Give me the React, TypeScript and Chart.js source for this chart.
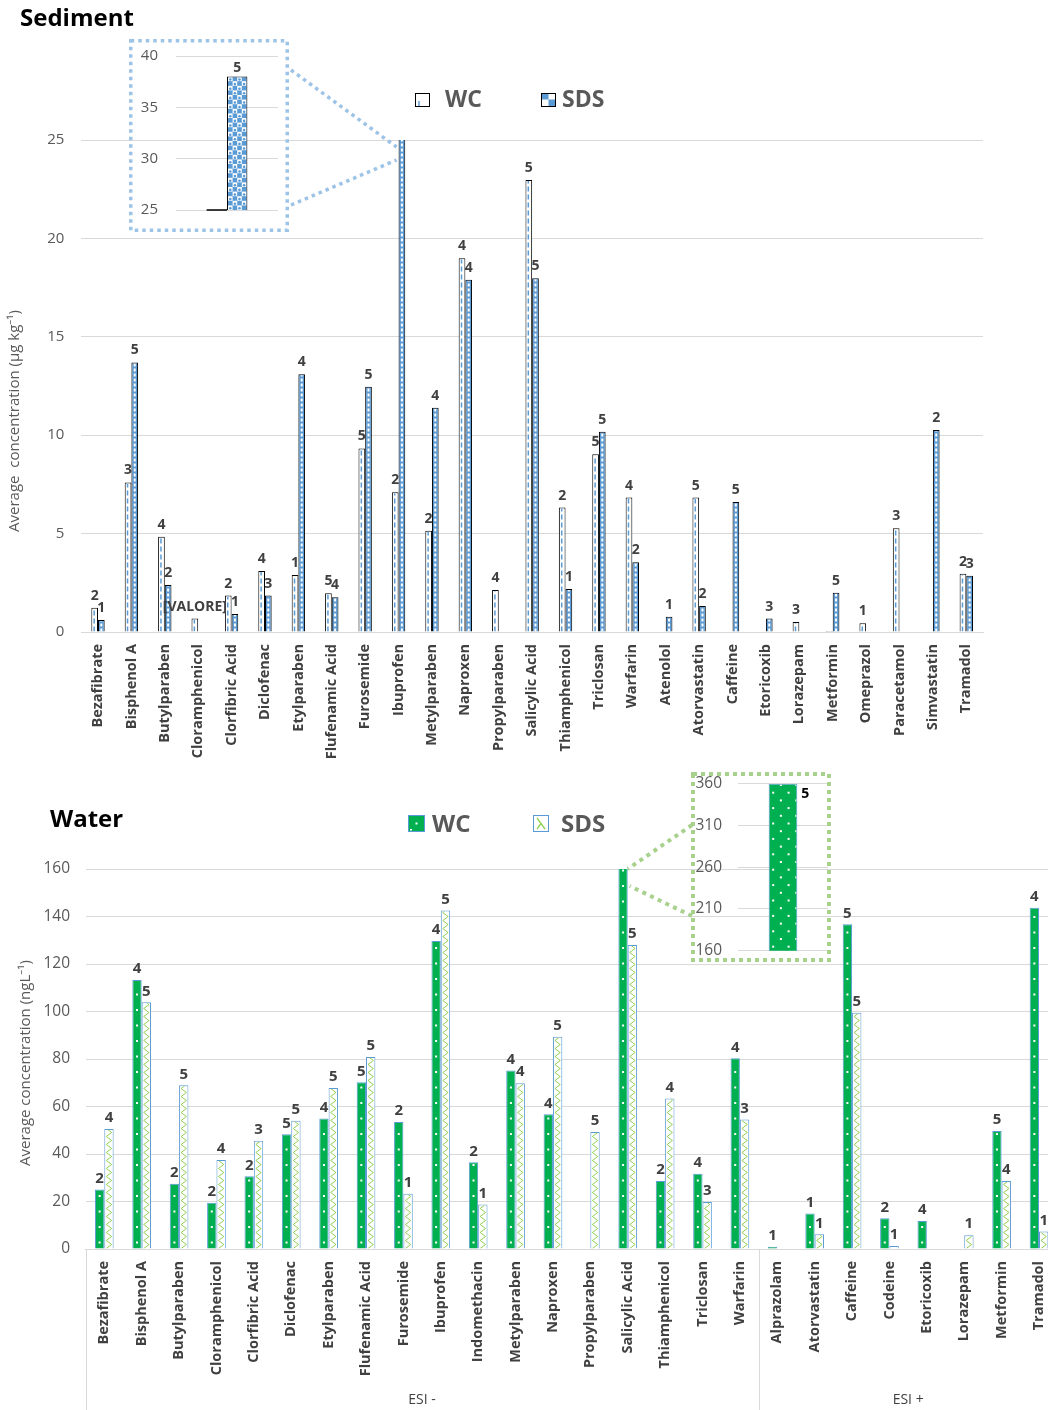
import React, { useEffect, useRef } from 'react';
import { Chart, registerables } from 'chart.js';

Chart.register(...registerables);

const FONT = "'Open Sans', 'Noto Sans', 'DejaVu Sans', sans-serif";
Chart.defaults.font.family = FONT;

// ---------------- Sediment data ----------------
const sedimentCategories = [
  'Bezafibrate', 'Bisphenol A', 'Butylparaben', 'Cloramphenicol', 'Clorfibric Acid', 'Diclofenac',
  'Etylparaben', 'Flufenamic Acid', 'Furosemide', 'Ibuprofen', 'Metylparaben', 'Naproxen',
  'Propylparaben', 'Salicylic Acid', 'Thiamphenicol', 'Triclosan', 'Warfarin', 'Atenolol',
  'Atorvastatin', 'Caffeine', 'Etoricoxib', 'Lorazepam', 'Metformin', 'Omeprazol', 'Paracetamol',
  'Simvastatin', 'Tramadol',
];
const sedimentWC: (number | null)[] = [
  1.23, 7.6, 4.84, 0.68, 1.85, 3.1, 2.9, 1.97, 9.33, 7.1, 5.15, 18.99, 2.13, 22.97, 6.32, 9.03, 6.83,
  null, 6.83, null, null, 0.51, 0.05, 0.44, 5.27, null, 2.96,
];
const sedimentSDS: (number | null)[] = [
  0.61, 13.7, 2.39, null, 0.91, 1.85, 13.1, 1.76, 12.46, 38, 11.4, 17.9, null, 17.97, 2.18, 10.18, 3.54,
  0.78, 1.32, 6.6, 0.68, null, 2.0, null, null, 10.26, 2.86,
];
const sedimentWCn: (string | null)[] = [
  '2', '3', '4', '[VALORE]', '2', '4', '1', '5', '5', '2', '2', '4', '4', '5', '2', '5', '4',
  null, '5', null, null, '3', null, '1', '3', null, '2',
];
const sedimentSDSn: (string | null)[] = [
  '1', '5', '2', null, '1', '3', '4', '4', '5', '5', '4', '4', null, '5', '1', '5', '2',
  '1', '2', '5', '3', null, '5', null, null, '2', '3',
];
const sedimentYMax = 25;
const sedimentYStep = 5;
const sedimentInsetIndex = 9;
const sedimentInsetMin = 25;
const sedimentInsetMax = 40;
const sedimentInsetStep = 5;

// ---------------- Water data ----------------
const waterCategories = [
  'Bezafibrate', 'Bisphenol A', 'Butylparaben', 'Cloramphenicol', 'Clorfibric Acid', 'Diclofenac',
  'Etylparaben', 'Flufenamic Acid', 'Furosemide', 'Ibuprofen', 'Indomethacin', 'Metylparaben',
  'Naproxen', 'Propylparaben', 'Salicylic Acid', 'Thiamphenicol', 'Triclosan', 'Warfarin',
  'Alprazolam', 'Atorvastatin', 'Caffeine', 'Codeine', 'Etoricoxib', 'Lorazepam', 'Metformin', 'Tramadol',
];
const waterWC: (number | null)[] = [
  25.1, 113.3, 27.5, 19.5, 30.6, 48.3, 54.9, 70.2, 53.5, 129.7, 36.5, 75.2, 56.7, null, 360, 28.6, 31.7, 80.3,
  1.0, 15.0, 136.7, 12.9, 11.8, null, 49.7, 143.7,
];
const waterSDS: (number | null)[] = [
  50.5, 103.9, 68.9, 37.5, 45.6, 54.0, 67.8, 80.8, 23.3, 142.5, 18.7, 69.8, 89.4, 49.3, 128, 63.4, 19.8, 54.5,
  null, 6.2, 99.5, 1.3, null, 5.8, 28.6, 7.4,
];
const waterWCn: (string | null)[] = [
  '2', '4', '2', '2', '2', '5', '4', '5', '2', '4', '2', '4', '4', null, '5', '2', '4', '4',
  '1', '1', '5', '2', '4', null, '5', '4',
];
const waterSDSn: (string | null)[] = [
  '4', '5', '5', '4', '3', '5', '5', '5', '1', '5', '1', '4', '5', '5', '5', '4', '3', '3',
  null, '1', '5', '1', null, '1', '4', '1',
];
const waterGroupLabels = ['ESI -', 'ESI +'];
const waterGroupSizes = [18, 8];
const waterYMax = 160;
const waterYStep = 20;
const waterInsetIndex = 14;
const waterInsetMin = 160;
const waterInsetMax = 360;
const waterInsetStep = 50;

// ---------------- styling helpers ----------------
type Kind = 'sedWC' | 'sedSDS' | 'watWC' | 'watSDS';

function paintInterior(
  ctx: CanvasRenderingContext2D, kind: Kind,
  left: number, right: number, top: number, bottom: number, cells?: number,
) {
  const w = right - left;
  const h = bottom - top;
  if (w <= 0 || h <= 0) return;
  const cx = (left + right) / 2;
  ctx.save();
  ctx.beginPath();
  ctx.rect(left, top, w, h);
  ctx.clip();
  if (kind === 'sedWC') {
    ctx.strokeStyle = '#5B9BD5';
    ctx.lineWidth = 1.5;
    ctx.setLineDash([5, 3]);
    ctx.beginPath();
    ctx.moveTo(cx - 0.5, bottom);
    ctx.lineTo(cx - 0.5, top);
    ctx.stroke();
  } else if (kind === 'sedSDS') {
    ctx.fillStyle = '#FFFFFF';
    if (cells || w > 12) {
      const n = cells || 4;
      const s = w / n;
      let r = 0;
      for (let y = bottom; y > top - s; y -= s, r++) {
        for (let c = 0; c < n; c++) {
          if ((r + c) % 2 === 0) ctx.fillRect(left + c * s, y - s, s, s);
        }
      }
      if (!cells) {
        ctx.fillStyle = '#5B9BD5';
        r = 0;
        for (let y = bottom; y > top - s; y -= s, r++) {
          for (let c = 0; c < n; c++) {
            if ((r + c) % 2 === 0) {
              ctx.beginPath();
              ctx.arc(left + c * s + s / 2, y - s / 2 + 0.6, s * 0.28, 0, Math.PI * 2);
              ctx.fill();
            }
          }
        }
      }
    } else {
      ctx.strokeStyle = '#FFFFFF';
      ctx.lineWidth = 2;
      ctx.setLineDash([3, 2]);
      ctx.beginPath();
      ctx.moveTo(cx, bottom);
      ctx.lineTo(cx, top);
      ctx.stroke();
    }
  } else if (kind === 'watWC') {
    ctx.fillStyle = '#FFFFFF';
    if (w > 15) {
      let r = 0;
      for (let y = bottom - 4; y > top; y -= 7.7, r++) {
        const off = r % 2 ? 7.7 : 0;
        for (let x = left + 3.5 + off; x < right; x += 15.4) ctx.fillRect(x - 1, y - 1, 2, 2);
      }
    } else {
      for (let y = bottom - 6; y > top + 1; y -= 15.5) ctx.fillRect(cx - 1, y - 1, 2, 2);
    }
  } else if (kind === 'watSDS') {
    ctx.strokeStyle = '#92D050';
    ctx.lineWidth = 1;
    ctx.beginPath();
    let i = 0;
    for (let y = bottom; y > top - 5; y -= 4, i++) {
      const x = i % 2 ? right - 1 : left + 1;
      if (i === 0) ctx.moveTo(x, y); else ctx.lineTo(x, y);
    }
    ctx.stroke();
  }
  ctx.restore();
}

function decor(kinds: Kind[]) {
  return {
    id: 'decor',
    afterDatasetsDraw(chart: any) {
      const ctx = chart.ctx as CanvasRenderingContext2D;
      const ca = chart.chartArea;
      chart.data.datasets.forEach((ds: any, i: number) => {
        const kind = kinds[i];
        chart.getDatasetMeta(i).data.forEach((el: any, j: number) => {
          const v = ds.data[j];
          if (v == null) return;
          const p = el.getProps(['x', 'y', 'base', 'width'], true);
          const top = Math.max(Math.min(p.y, p.base), ca.top);
          const bottom = Math.min(Math.max(p.y, p.base), ca.bottom);
          if (bottom - top < 3) return;
          const topIn = p.y >= ca.top ? top + 1 : top;
          paintInterior(ctx, kind, p.x - p.width / 2 + 1, p.x + p.width / 2 - 1, topIn, bottom);
        });
      });
    },
  };
}

function valueLabels(labels: (string | null)[][], font: string, color: string, gap: number, side: 'top' | 'right' = 'top') {
  return {
    id: 'valueLabels',
    afterDatasetsDraw(chart: any) {
      const ctx = chart.ctx as CanvasRenderingContext2D;
      const ys = chart.scales.y;
      ctx.save();
      ctx.font = font;
      ctx.fillStyle = color;
      ctx.textBaseline = 'middle';
      chart.data.datasets.forEach((ds: any, i: number) => {
        const labs = labels[i];
        if (!labs) return;
        chart.getDatasetMeta(i).data.forEach((el: any, j: number) => {
          const v = ds.data[j];
          const t = labs[j];
          if (v == null || t == null) return;
          if (v > ys.max || v < ys.min) return;
          const p = el.getProps(['x', 'y', 'width'], true);
          if (side === 'right') {
            ctx.textAlign = 'left';
            ctx.fillText(t, p.x + p.width / 2 + gap, p.y + 10);
          } else {
            ctx.textAlign = 'center';
            ctx.fillText(t, p.x, p.y - gap);
          }
        });
      });
      ctx.restore();
    },
  };
}

function swatch(ctx: CanvasRenderingContext2D, kind: Kind, x: number, y: number, w: number, h: number, border: string) {
  ctx.save();
  ctx.fillStyle = kind === 'sedSDS' ? '#5B9BD5' : kind === 'watWC' ? '#00B050' : '#FFFFFF';
  ctx.fillRect(x, y, w, h);
  if (kind === 'sedWC') {
    ctx.strokeStyle = '#5B9BD5';
    ctx.lineWidth = 1.5;
    ctx.beginPath();
    ctx.moveTo(x + 4, y + h - 1);
    ctx.lineTo(x + 4, y + h - 6);
    ctx.stroke();
  } else if (kind === 'sedSDS') {
    paintInterior(ctx, kind, x, x + w, y, y + h, 2);
  } else if (kind === 'watWC') {
    ctx.fillStyle = '#FFFFFF';
    ctx.fillRect(x + w / 2 - 1, y + h / 2 - 1, 2, 2);
    ctx.fillRect(x + 2, y + h - 3, 2, 1.5);
  } else {
    ctx.strokeStyle = '#92D050';
    ctx.lineWidth = 1.3;
    ctx.beginPath();
    ctx.moveTo(x + 4, y + 3);
    ctx.lineTo(x + w / 2, y + h / 2);
    ctx.lineTo(x + 4, y + h - 3);
    ctx.moveTo(x + w / 2, y + h / 2);
    ctx.lineTo(x + w - 4, y + h - 3);
    ctx.stroke();
  }
  ctx.strokeStyle = border;
  ctx.lineWidth = 1;
  ctx.strokeRect(x + 0.5, y + 0.5, w - 1, h - 1);
  ctx.restore();
}

function verticalTitle(ctx: CanvasRenderingContext2D, text: string, x: number, y: number) {
  ctx.save();
  ctx.translate(x, y);
  ctx.rotate(-Math.PI / 2);
  ctx.font = `15px ${FONT}`;
  ctx.fillStyle = '#595959';
  ctx.textAlign = 'center';
  ctx.textBaseline = 'middle';
  ctx.fillText(text, 0, 0);
  ctx.restore();
}

function insetFrame(color: string, lw: number, dash: number[]) {
  return {
    id: 'frame',
    afterDraw(chart: any) {
      const ctx = chart.ctx as CanvasRenderingContext2D;
      ctx.save();
      ctx.strokeStyle = color;
      ctx.lineWidth = lw;
      ctx.setLineDash(dash);
      ctx.strokeRect(lw / 2, lw / 2, chart.width - lw, chart.height - lw);
      ctx.restore();
    },
  };
}

const belowMinMarker = {
  id: 'belowMin',
  afterDatasetsDraw(chart: any) {
    const ys = chart.scales.y;
    const ca = chart.chartArea;
    const ctx = chart.ctx as CanvasRenderingContext2D;
    chart.data.datasets.forEach((ds: any, i: number) => {
      chart.getDatasetMeta(i).data.forEach((el: any, j: number) => {
        const v = ds.data[j];
        if (v == null || v >= ys.min) return;
        const p = el.getProps(['x', 'width'], true);
        ctx.save();
        ctx.strokeStyle = '#000';
        ctx.lineWidth = 1.5;
        ctx.beginPath();
        ctx.moveTo(p.x - p.width / 2, ca.bottom);
        ctx.lineTo(p.x + p.width / 2, ca.bottom);
        ctx.stroke();
        ctx.restore();
      });
    });
  },
};

const sedimentOverlay = {
  id: 'overlay',
  afterDraw(chart: any) {
    const ctx = chart.ctx as CanvasRenderingContext2D;
    const ca = chart.chartArea;
    ctx.save();
    ctx.fillStyle = '#000';
    ctx.font = `bold 24px ${FONT}`;
    ctx.textAlign = 'left';
    ctx.textBaseline = 'alphabetic';
    ctx.fillText('Sediment', 20, 26);

    swatch(ctx, 'sedWC', 415, 93, 15, 14, '#000');
    swatch(ctx, 'sedSDS', 541, 93, 15, 14, '#000');
    ctx.fillStyle = '#595959';
    ctx.font = `bold 23px ${FONT}`;
    ctx.fillText(chart.data.datasets[0].label, 445, 107);
    ctx.fillText(chart.data.datasets[1].label, 562, 107);

    verticalTitle(ctx, 'Average  concentration (\u03bcg kg\u207b\u00b9)', 15, 421);

    const el = chart.getDatasetMeta(1).data[sedimentInsetIndex];
    const p = el.getProps(['x', 'width'], true);
    const xl = p.x - p.width / 2 - 2;
    ctx.strokeStyle = '#9DC3E6';
    ctx.lineWidth = 3.5;
    ctx.setLineDash([3.5, 4]);
    ctx.beginPath();
    ctx.moveTo(291, 70);
    ctx.lineTo(xl, ca.top + 7);
    ctx.moveTo(291, 205);
    ctx.lineTo(xl, ca.top + 20);
    ctx.stroke();
    ctx.restore();
  },
};

const waterOverlay = {
  id: 'overlay',
  afterDraw(chart: any) {
    const ctx = chart.ctx as CanvasRenderingContext2D;
    const ca = chart.chartArea;
    ctx.save();
    ctx.fillStyle = '#000';
    ctx.font = `bold 24px ${FONT}`;
    ctx.textAlign = 'left';
    ctx.textBaseline = 'alphabetic';
    ctx.fillText('Water', 50, 57);

    swatch(ctx, 'watWC', 408, 45, 17, 17, '#5B9BD5');
    swatch(ctx, 'watSDS', 533, 45, 16, 17, '#5B9BD5');
    ctx.fillStyle = '#595959';
    ctx.font = `bold 24px ${FONT}`;
    ctx.fillText(chart.data.datasets[0].label, 432, 62);
    ctx.fillText(chart.data.datasets[1].label, 561, 62);

    verticalTitle(ctx, 'Average concentration (ngL\u207b\u00b9)', 26, 293);

    // group boxes
    const n = chart.data.labels.length;
    const step = (ca.right - ca.left) / n;
    ctx.strokeStyle = '#D9D9D9';
    ctx.lineWidth = 1;
    let start = 0;
    const edges = [ca.left];
    ctx.font = `14px ${FONT}`;
    ctx.fillStyle = '#404040';
    ctx.textAlign = 'center';
    ctx.textBaseline = 'middle';
    waterGroupSizes.forEach((size, g) => {
      const x0 = ca.left + start * step;
      const x1 = ca.left + (start + size) * step;
      edges.push(x1);
      ctx.fillText(waterGroupLabels[g], (x0 + x1) / 2, 630);
      start += size;
    });
    ctx.beginPath();
    edges.forEach((x) => {
      const xx = Math.round(x) + 0.5;
      ctx.moveTo(xx, ca.bottom);
      ctx.lineTo(xx, chart.height);
    });
    ctx.stroke();

    const el = chart.getDatasetMeta(0).data[waterInsetIndex];
    const p = el.getProps(['x', 'width'], true);
    const xr = p.x + p.width / 2;
    ctx.strokeStyle = '#A9D18E';
    ctx.lineWidth = 4;
    ctx.setLineDash([4, 4.5]);
    ctx.beginPath();
    ctx.moveTo(692, 55);
    ctx.lineTo(xr, ca.top);
    ctx.moveTo(692, 146);
    ctx.lineTo(xr + 2, ca.top + 17);
    ctx.stroke();
    ctx.restore();
  },
};

function tickFont(size: number, bold = false) {
  return { family: FONT, size, weight: bold ? ('bold' as const) : ('normal' as const) };
}

export default function App() {
  const sedRef = useRef<HTMLCanvasElement>(null);
  const sedInsetRef = useRef<HTMLCanvasElement>(null);
  const watRef = useRef<HTMLCanvasElement>(null);
  const watInsetRef = useRef<HTMLCanvasElement>(null);

  useEffect(() => {
    const charts: Chart[] = [];

    charts.push(new Chart(sedRef.current!, {
      type: 'bar',
      data: {
        labels: sedimentCategories,
        datasets: [
          { label: 'WC', data: sedimentWC, backgroundColor: '#FFFFFF', borderColor: '#000000', borderWidth: 1 },
          { label: 'SDS', data: sedimentSDS, backgroundColor: '#5B9BD5', borderColor: '#000000', borderWidth: 1 },
        ],
      },
      options: {
        responsive: false,
        animation: false,
        devicePixelRatio: 1,
        events: [],
        layout: { padding: { top: 140, right: 65, left: 0, bottom: 0 } },
        datasets: { bar: { categoryPercentage: 0.4, barPercentage: 1 } },
        plugins: { legend: { display: false }, tooltip: { enabled: false } },
        scales: {
          x: {
            grid: { display: false, drawTicks: false },
            border: { color: '#D9D9D9' },
            ticks: { autoSkip: false, minRotation: 90, maxRotation: 90, padding: 12, font: tickFont(14.5, true), color: '#404040' },
            afterFit: (s: any) => { s.height = 138; },
          },
          y: {
            min: 0,
            max: sedimentYMax,
            ticks: { stepSize: sedimentYStep, padding: 17, font: tickFont(15), color: '#595959' },
            grid: { color: '#D9D9D9', drawTicks: false },
            border: { display: false },
            afterFit: (s: any) => { s.width = 81.3; },
          },
        },
      } as any,
      plugins: [
        decor(['sedWC', 'sedSDS']),
        valueLabels([sedimentWCn, sedimentSDSn], `bold 14px ${FONT}`, '#404040', 12),
        sedimentOverlay,
      ],
    }));

    charts.push(new Chart(sedInsetRef.current!, {
      type: 'bar',
      data: {
        labels: [sedimentCategories[sedimentInsetIndex]],
        datasets: [
          { label: 'WC', data: [sedimentWC[sedimentInsetIndex]], backgroundColor: '#FFFFFF', borderColor: '#000000', borderWidth: 1 },
          { label: 'SDS', data: [sedimentSDS[sedimentInsetIndex]], backgroundColor: '#5B9BD5', borderColor: '#000000', borderWidth: 1 },
        ],
      },
      options: {
        responsive: false,
        animation: false,
        devicePixelRatio: 1,
        events: [],
        layout: { padding: { top: 17, right: 11, left: 0, bottom: 22 } },
        datasets: { bar: { categoryPercentage: 0.4, barPercentage: 1 } },
        plugins: { legend: { display: false }, tooltip: { enabled: false } },
        scales: {
          x: { display: false },
          y: {
            min: sedimentInsetMin,
            max: sedimentInsetMax,
            ticks: { stepSize: sedimentInsetStep, padding: 0, font: tickFont(15), color: '#595959' },
            grid: { color: '#D9D9D9', drawTicks: true, tickLength: 18, tickColor: 'rgba(0,0,0,0)' },
            border: { display: false },
            afterFit: (s: any) => { s.width = 47; },
          },
        },
      } as any,
      plugins: [
        decor(['sedWC', 'sedSDS']),
        belowMinMarker,
        valueLabels([[sedimentWCn[sedimentInsetIndex]], [sedimentSDSn[sedimentInsetIndex]]], `bold 14px ${FONT}`, '#404040', 9),
        insetFrame('#9DC3E6', 3.5, [3.5, 4]),
      ],
    }));

    charts.push(new Chart(watRef.current!, {
      type: 'bar',
      data: {
        labels: waterCategories,
        datasets: [
          { label: 'WC', data: waterWC, backgroundColor: '#00B050', borderColor: '#5B9BD5', borderWidth: 1 },
          { label: 'SDS', data: waterSDS, backgroundColor: '#FFFFFF', borderColor: '#5B9BD5', borderWidth: 1 },
        ],
      },
      options: {
        responsive: false,
        animation: false,
        devicePixelRatio: 1,
        events: [],
        layout: { padding: { top: 99, right: 17.3, left: 0, bottom: 0 } },
        datasets: { bar: { categoryPercentage: 0.5, barPercentage: 1 } },
        plugins: { legend: { display: false }, tooltip: { enabled: false } },
        scales: {
          x: {
            grid: { display: false, drawTicks: false },
            border: { color: '#D9D9D9' },
            ticks: { autoSkip: false, minRotation: 90, maxRotation: 90, padding: 12, font: tickFont(14.5, true), color: '#404040' },
            afterFit: (s: any) => { s.height = 161; },
          },
          y: {
            min: 0,
            max: waterYMax,
            ticks: { stepSize: waterYStep, padding: 15.6, font: tickFont(15.5), color: '#595959' },
            grid: { color: '#D9D9D9', drawTicks: false },
            border: { display: false },
            afterFit: (s: any) => { s.width = 85.6; },
          },
        },
      } as any,
      plugins: [
        decor(['watWC', 'watSDS']),
        valueLabels([waterWCn, waterSDSn], `bold 15px ${FONT}`, '#404040', 11),
        waterOverlay,
      ],
    }));

    charts.push(new Chart(watInsetRef.current!, {
      type: 'bar',
      data: {
        labels: [waterCategories[waterInsetIndex]],
        datasets: [
          { label: 'WC', data: [waterWC[waterInsetIndex]], backgroundColor: '#00B050', borderColor: '#5B9BD5', borderWidth: 1 },
        ],
      },
      options: {
        responsive: false,
        animation: false,
        devicePixelRatio: 1,
        events: [],
        layout: { padding: { top: 11.7, right: 3, left: 0, bottom: 11.3 } },
        datasets: { bar: { categoryPercentage: 0.318, barPercentage: 1 } },
        plugins: { legend: { display: false }, tooltip: { enabled: false } },
        scales: {
          x: { display: false },
          y: {
            min: waterInsetMin,
            max: waterInsetMax,
            ticks: { stepSize: waterInsetStep, padding: 0, font: tickFont(15.5), color: '#595959' },
            grid: { color: '#D9D9D9', drawTicks: true, tickLength: 16, tickColor: 'rgba(0,0,0,0)' },
            border: { display: false },
            afterFit: (s: any) => { s.width = 47; },
          },
        },
      } as any,
      plugins: [
        decor(['watWC']),
        valueLabels([[waterWCn[waterInsetIndex]]], `bold 14px ${FONT}`, '#000000', 4, 'right'),
        insetFrame('#A9D18E', 4, [4, 4]),
      ],
    }));

    return () => charts.forEach((c) => c.destroy());
  }, []);

  return (
    <div style={{ position: 'absolute', left: 0, top: 0, width: 1048, height: 1410, overflow: 'hidden', background: '#FFFFFF' }}>
      <canvas ref={sedRef} width={1048} height={770} style={{ position: 'absolute', left: 0, top: 0 }} />
      <canvas ref={watRef} width={1075} height={640} style={{ position: 'absolute', left: 0, top: 770 }} />
      <canvas ref={sedInsetRef} width={160} height={193} style={{ position: 'absolute', left: 129, top: 39 }} />
      <canvas ref={watInsetRef} width={140} height={190} style={{ position: 'absolute', left: 691, top: 772 }} />
    </div>
  );
}
